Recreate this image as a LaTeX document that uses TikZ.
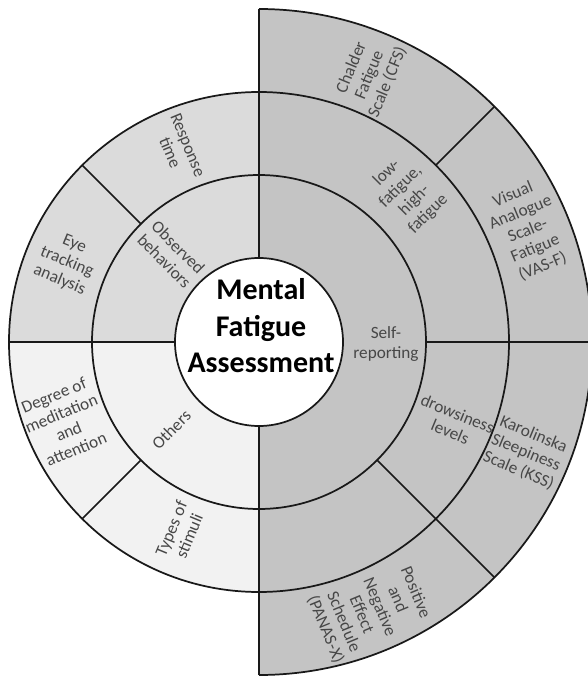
\documentclass[tikz,border=0pt]{standalone}
\usepackage{fontspec}
\setmainfont{Carlito}
\usepackage{tikz}
\usetikzlibrary{calc}
\definecolor{selfgrey}{gray}{0.77}
\definecolor{obsgrey}{gray}{0.86}
\definecolor{othergrey}{gray}{0.95}
\definecolor{labelgrey}{gray}{0.28}
\tikzset{
	every path/.style={line width=1.3pt},
	align=center,
	ringline/.style={
		draw=black!90,
	},
	part/.style={
		text=labelgrey,
		inner sep=1pt,
		font=\fontsize{12.9}{14.6}\selectfont,
	},
	hub/.style={
		text=black,
		font=\bfseries\fontsize{22.5}{27.4}\selectfont,
	},
}

\begin{document}
\begin{tikzpicture}[x=0.75pt,y=0.75pt]
		\useasboundingbox (-259,-334) rectangle (329,342);

		% filled halves
		\fill[selfgrey] (0,-333) arc[start angle=-90,end angle=90,radius=333] -- cycle;
		\fill[obsgrey] (0,0) -- (0,250) arc[start angle=90,end angle=180,radius=250] -- cycle;
		\fill[othergrey] (0,0) -- (-250,0) arc[start angle=180,end angle=270,radius=250] -- cycle;

		\node[part] (selfrep) at (127,-2) {Self-\\reporting};
		\node[part, rotate=-45] (observed) at (135:124) {Observed\\behaviors};
		\node[part, rotate=45] (others) at (225:124) {Others};
		\node[part, rotate=-67.5] (response) at (112.5:209) {Response\\time};
		\node[part, rotate=-22.5] (eyetrack) at (157.5:208) {Eye\\tracking\\analysis};
		\node[part, rotate=22.5] (meditation) at (202.5:210) {Degree of\\meditation\\and\\attention};
		\node[part, rotate=67.5] (stimuli) at (247.5:206) {Types of\\stimuli};
		\node[part, rotate=45] (lowhigh) at (45:210) {low-\\fatigue,\\high-\\fatigue};
		\node[part, rotate=-22.5] (drowsy) at (-22.5:211) {drowsiness\\levels};
		\node[part, rotate=67.5] (chalder) at (67.5:289) {Chalder\\Fatigue\\Scale (CFS)};
		\node[part, rotate=22.5] (vasf) at (22.5:291) {Visual\\Analogue\\Scale-\\Fatigue\\(VAS-F)};
		\node[part, rotate=-22.5] (kss) at (-22.5:289) {Karolinska\\Sleepiness\\Scale (KSS)};
		\node[part, rotate=-67.5] (panas) at (-67.5:291) {Positive\\and\\Negative\\Effect\\Schedule\\(PANAS-X)};

		% rings and dividers
		\draw[ringline] (0,-333) arc[start angle=-90,end angle=90,radius=333];
		\draw[ringline] (0,0) circle[radius=250];
		\draw[ringline] (0,0) circle[radius=167];
		\foreach \ang/\rfrom/\rto in {90/84/333, 270/84/333, 180/84/250, 0/167/333, 45/250/333, -45/167/333, 135/167/250, 225/167/250}
			\draw[ringline] (\ang:\rfrom) -- (\ang:\rto);
		\filldraw[ringline, fill=white] (0,0) circle[radius=84];

		\node[hub] (title) at (2,16) {Mental\\Fatigue\\Assessment};

	\end{tikzpicture}
\end{document}
